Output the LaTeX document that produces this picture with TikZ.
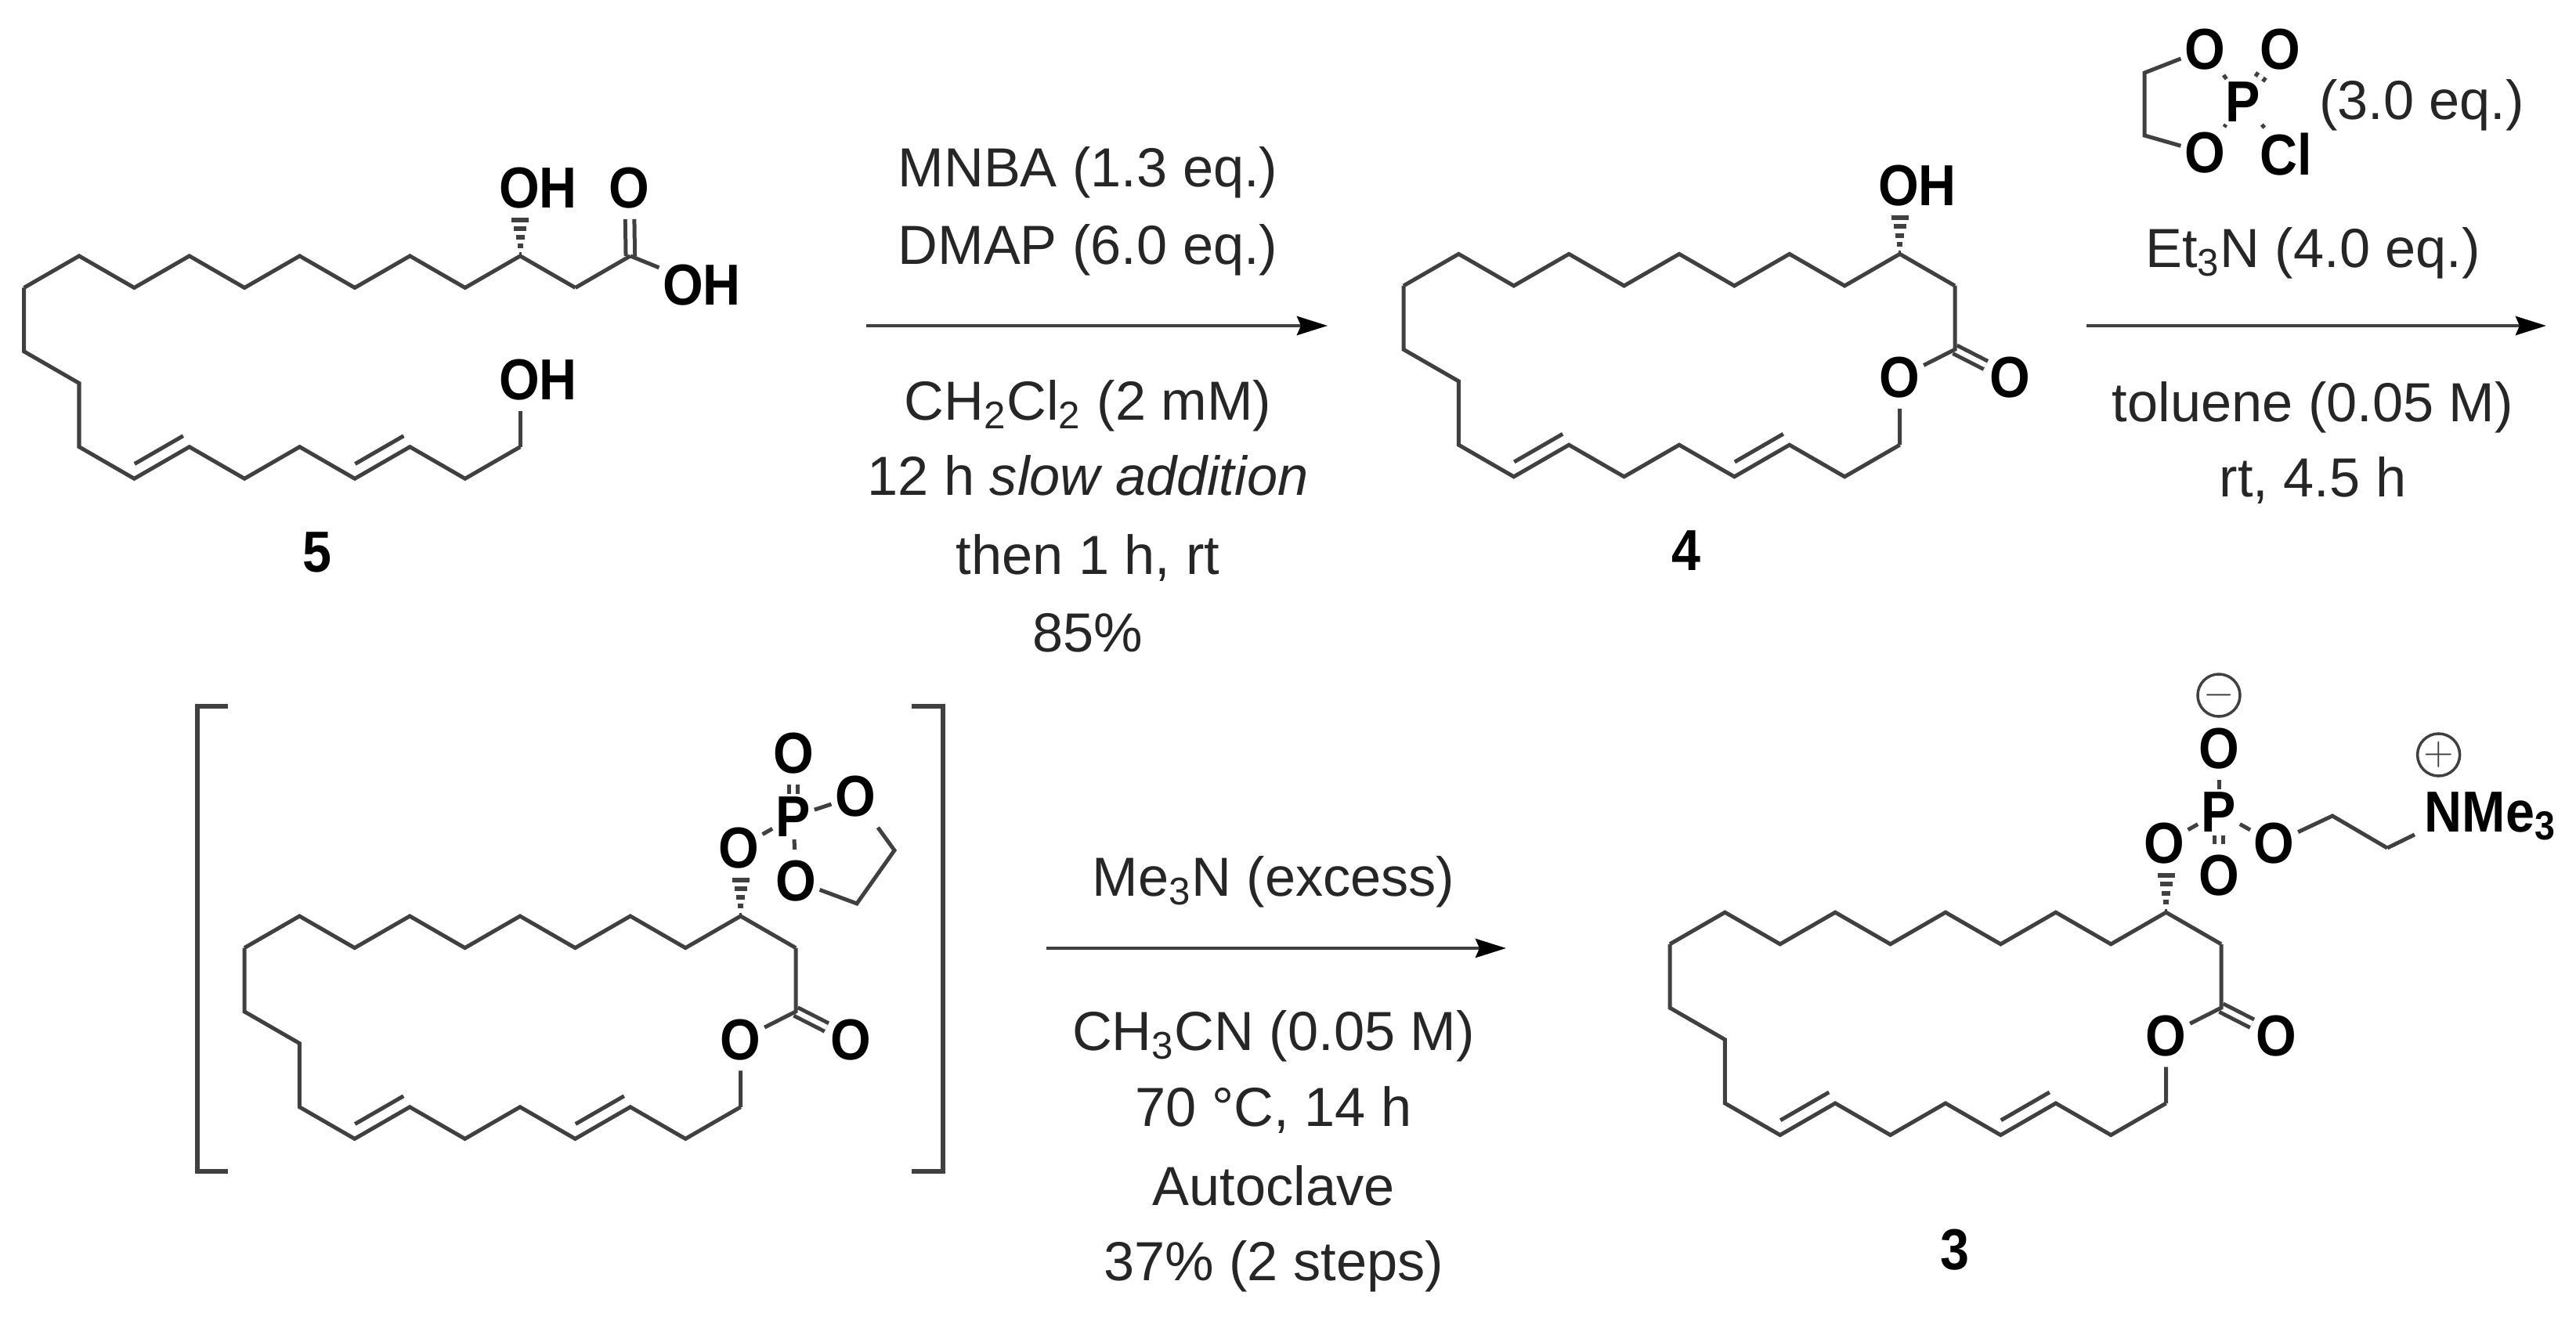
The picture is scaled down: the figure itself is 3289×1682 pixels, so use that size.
\documentclass[tikz,border=0pt]{standalone}
\usepackage{fontspec}
\setmainfont{Liberation Sans}
\newfontfamily\atomfont[FakeStretch=.9]{Liberation Sans}
\usetikzlibrary{calc,arrows.meta}

\definecolor{bondcol}{HTML}{404040}
\definecolor{textcol}{HTML}{262626}

% zigzag shared by all four molecules, one unit is one pixel of the picture
\newcommand{\chainbonds}{%
  \foreach \i in {1,...,11}{
    \pgfmathsetmacro\cx{70.4*(\i-1)}
    \pgfmathsetmacro\cy{isodd(\i)?0:-40.6}
    \coordinate (-c\i) at (\cx,\cy);
  }
  \coordinate (-c0) at (0,81.3);
  \coordinate (-d1) at (70.4,121.9);
  \foreach \i in {2,...,10}{
    \pgfmathsetmacro\cx{70.4*(\i-1)}
    \pgfmathsetmacro\cy{isodd(\i)?243.8:203.2}
    \coordinate (-d\i) at (\cx,\cy);
  }
  \draw[bond] (-c1) \foreach \i in {2,...,11}{ -- (-c\i)};
  \draw[bond] (-c1) -- (-c0) -- (-d1) \foreach \i in {2,...,10}{ -- (-d\i)};
  \foreach \a/\b in {3/4,7/8}{
    \draw[bond] ($(-d\a)!.12!(-d\b)+(-8,-14)$) -- ($(-d\b)+(-8,-14)$);
  }
}
% dashes get wider towards the substituent
\newcommand{\hashbond}[2]{%
  \foreach \f/\w in {.03/1.5,.27/3.5,.5/5.5,.74/8,.97/11}{
    \draw[bond,line width=.6mm] ($(#1)!\f!(#2)+(-\w,0)$) -- ($(#1)!\f!(#2)+(\w,0)$);
  }
}

\tikzset{
  bond/.style={draw=bondcol,line width=.5mm},
  dbond/.style={bond,double=white,double distance=.65mm},
  atom/.style={font=\fontsize{21}{22}\atomfont\bfseries,text=black,inner xsep=.4mm,inner ysep=1.3mm},
  ratom/.style={atom,inner ysep=.6mm},
  patom/.style={atom,inner ysep=.3mm},
  reagent/.style={font=\fontsize{20}{22}\selectfont,text=textcol,inner sep=0pt,text height=14.4pt,text depth=1.6pt},
  bracket/.style={draw=bondcol,line width=.6mm},
  reaction/.style={draw=bondcol,line width=.45mm,-{Stealth[length=3.9mm,width=2.4mm,inset=.5mm,black]}},
  charge/.style={circle,draw=bondcol,line width=.35mm,minimum size=5.4mm,inner sep=0pt,font=\fontsize{15}{15}\selectfont,text=bondcol},
  pics/openchain/.style={code={\chainbonds}},
  pics/lactone/.style={code={
    \chainbonds
    \coordinate (-co) at (704,81.3);
    \node[atom] (-oa) at (633.6,117) {O};
    \node[atom] (-ob) at (774,117) {O};
    \draw[dbond] (-co) -- (-ob);
    \draw[bond] (-c11) -- (-co) -- (-oa) -- (-d10);
  }},
}

\begin{document}
\begin{tikzpicture}[x=.01cm,y=-.01cm]
  \useasboundingbox (0,0) rectangle (3289,1682);

  % hydroxy acid 5
  \pic (m5) at (30.6,367.5) {openchain};
  \coordinate (m5co) at (804.8,326.9);
  \node[atom] (m5oh) at (687,240) {OH};
  \node[atom] (m5o) at (803.6,240) {O};
  \node[atom] (m5acid) at (896,364) {OH};
  \node[atom] (m5end) at (687,485) {OH};
  \draw[dbond] (m5co) -- (m5o);
  \draw[bond] (m5-c11) -- (m5co);
  \draw[bond] (m5co) -- (m5acid);
  \draw[bond] (m5-d10) -- (m5-d10 |- m5end.south);
  \coordinate (m5hash) at (m5-c10 |- m5oh.south);
  \hashbond{m5-c10}{m5hash}
  \node[atom] (lab5) at (405,705) {5};

  % first step
  \coordinate (arrA) at (1106,416);
  \coordinate (arrB) at (1695,416);
  \draw[reaction] (arrA) -- (arrB);
  \node[reagent] (mnba) at (1389,216) {MNBA (1.3 eq.)};
  \node[reagent] (dmap) at (1389,315) {DMAP (6.0 eq.)};
  \node[reagent] (dcm) at (1389,514) {CH\textsubscript{2}Cl\textsubscript{2} (2 mM)};
  \node[reagent] (slow) at (1389,610) {12 h \textit{slow addition}};
  \node[reagent] (then) at (1389,711) {then 1 h, rt};
  \node[reagent] (yieldA) at (1389,810) {85\%};

  % lactone 4
  \pic (m4) at (1792,365) {lactone};
  \node[atom] (m4oh) at (2448,237) {OH};
  \coordinate (m4hash) at (m4-c10 |- m4oh.south);
  \hashbond{m4-c10}{m4hash}
  \node[atom] (lab4) at (2153,703) {4};

  % second step, chlorophosphate reagent
  \node[ratom] (ruo) at (2815,63) {O};
  \node[ratom] (rdo) at (2911,63) {O};
  \node[patom] (rup) at (2864,130) {P};
  \node[ratom] (rlo) at (2815,195) {O};
  \node[ratom] (rcl) at (2919,197) {Cl};
  \coordinate (rca) at (2738,93);
  \coordinate (rcb) at (2738,173);
  \draw[bond] (ruo) -- (rca) -- (rcb) -- (rlo);
  \draw[bond] (rup) -- (ruo);
  \draw[bond] (rup) -- (rlo);
  \draw[bond] (rup) -- (rcl);
  \draw[dbond] (rup) -- (rdo);
  \node[reagent] (eqC) at (3092,130) {(3.0 eq.)};
  \node[reagent] (etn) at (2953,319) {Et\textsubscript{3}N (4.0 eq.)};
  \coordinate (arrC) at (2664,416);
  \coordinate (arrD) at (3251,416);
  \draw[reaction] (arrC) -- (arrD);
  \node[reagent] (tol) at (2953,516) {toluene (0.05 M)};
  \node[reagent] (rtA) at (2953,612) {rt, 4.5 h};

  % bracketed intermediate
  \coordinate (bl1) at (291,902);
  \coordinate (bl2) at (252,902);
  \coordinate (bl3) at (252,1496);
  \coordinate (bl4) at (291,1496);
  \coordinate (br1) at (1164,902);
  \coordinate (br2) at (1204,902);
  \coordinate (br3) at (1204,1496);
  \coordinate (br4) at (1164,1496);
  \draw[bracket] (bl1) -- (bl2) -- (bl3) -- (bl4);
  \draw[bracket] (br1) -- (br2) -- (br3) -- (br4);
  \pic (mi) at (312,1210.6) {lactone};
  \node[atom] (mio) at (943,1083) {O};
  \node[patom] (mip) at (1013,1043) {P};
  \node[atom] (mido) at (1013,962) {O};
  \node[atom] (miro) at (1092,1017) {O};
  \node[atom] (milo) at (1016,1125) {O};
  \coordinate (mica) at (1142,1086);
  \coordinate (micb) at (1094,1154);
  \draw[dbond] (mip) -- (mido);
  \draw[bond] (mio) -- (mip) -- (miro);
  \draw[bond] (mip) -- (milo);
  \draw[bond] (miro) -- (mica) -- (micb) -- (milo);
  \coordinate (mihash) at (mi-c10 |- mio.south);
  \hashbond{mi-c10}{mihash}

  % third step
  \node[reagent] (men) at (1626,1122) {Me\textsubscript{3}N (excess)};
  \coordinate (arrE) at (1336,1211);
  \coordinate (arrF) at (1923,1211);
  \draw[reaction] (arrE) -- (arrF);
  \node[reagent] (acn) at (1626,1319) {CH\textsubscript{3}CN (0.05 M)};
  \node[reagent] (temp) at (1626,1416) {70 °C, 14 h};
  \node[reagent] (auto) at (1626,1517) {Autoclave};
  \node[reagent] (yieldB) at (1626,1613) {37\% (2 steps)};

  % phosphocholine 3
  \pic (m3) at (2132,1205.8) {lactone};
  \node[atom] (m3o) at (2763,1077) {O};
  \node[patom] (m3p) at (2833,1037.5) {P};
  \node[atom] (m3to) at (2833,956) {O};
  \node[atom] (m3do) at (2833,1118) {O};
  \node[atom] (m3ro) at (2903.6,1077) {O};
  \coordinate (m3ca) at (2978,1042);
  \coordinate (m3cb) at (3048,1083);
  \node[atom,anchor=base west] (nme) at (3091,1062) {NMe\textsubscript{3}};
  \draw[dbond] (m3p) -- (m3do);
  \draw[bond] (m3o) -- (m3p) -- (m3ro);
  \draw[bond] (m3p) -- (m3to);
  \draw[bond] (m3ro) -- (m3ca) -- (m3cb);
  \draw[bond,shorten >=.9mm] (m3cb) -- (nme.base west);
  \coordinate (m3hash) at (m3-c10 |- m3o.south);
  \hashbond{m3-c10}{m3hash}
  \node[charge] (neg) at (2833,888) {$-$};
  \node[charge] (pos) at (3113.6,964) {$+$};
  \node[atom] (lab3) at (2496,1596) {3};
\end{tikzpicture}
\end{document}
